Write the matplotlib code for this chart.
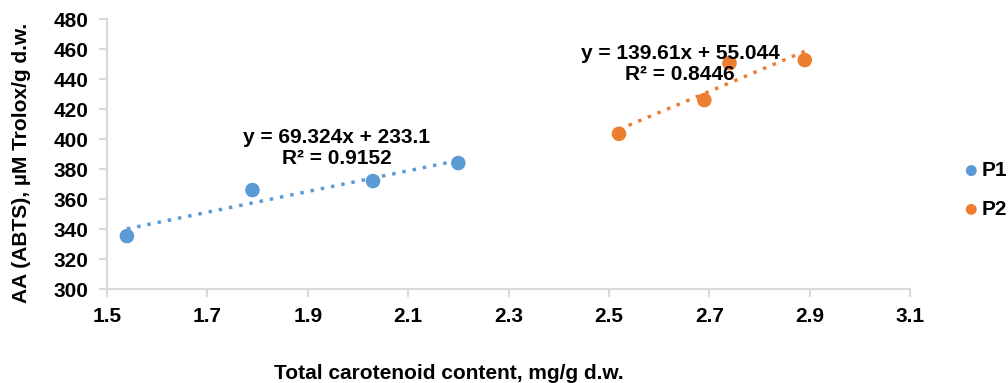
import numpy as np
import matplotlib.pyplot as plt

plt.rcParams['font.family'] = ['Liberation Sans', 'DejaVu Sans']
plt.rcParams['font.weight'] = 'bold'

p1_x = [1.54, 1.79, 2.03, 2.20]
p1_y = [335.3, 366.0, 372.0, 384.0]
p2_x = [2.52, 2.69, 2.74, 2.89]
p2_y = [403.5, 426.0, 450.7, 452.7]

p1_eq = "y = 69.324x + 233.1\nR² = 0.9152"
p2_eq = "y = 139.61x + 55.044\nR² = 0.8446"

blue = '#5B9BD5'
orange = '#ED7D31'
fs = 15

fig = plt.figure(figsize=(10.08, 3.83), dpi=100)
ax = fig.add_axes([0.106, 0.2454, 0.797, 0.7046])

for xs, ys, c, name in [(p1_x, p1_y, blue, 'P1'), (p2_x, p2_y, orange, 'P2')]:
    ax.scatter(xs, ys, s=110, color=c, label=name, zorder=3, edgecolors='none')
    k, b = np.polyfit(xs, ys, 1)
    lx = np.array([min(xs), max(xs)])
    ax.plot(lx, k * lx + b, linestyle=(0, (1, 2)), color=c, lw=2.5, zorder=2)

ax.text(1.958, 394, p1_eq, ha='center', va='center', fontsize=fs,
        fontweight='bold', linespacing=1.15, zorder=4)
ax.text(2.642, 450.3, p2_eq, ha='center', va='center', fontsize=fs,
        fontweight='bold', linespacing=1.15, zorder=4)

ax.set_xlim(1.5, 3.1)
ax.set_ylim(300, 480)
ax.set_xticks(np.arange(1.5, 3.11, 0.2))
ax.set_xticklabels(['1.5', '1.7', '1.9', '2.1', '2.3', '2.5', '2.7', '2.9', '3.1'])
ax.set_yticks(range(300, 481, 20))

for s in ['top', 'right']:
    ax.spines[s].set_visible(False)
for s in ['left', 'bottom']:
    ax.spines[s].set_color('#D9D9D9')
    ax.spines[s].set_linewidth(1.5)
ax.tick_params(axis='both', colors='#D9D9D9', width=1.5, length=6, pad=7,
               labelcolor='black', labelsize=fs)
for lab in ax.get_xticklabels() + ax.get_yticklabels():
    lab.set_fontweight('bold')

fig.text(0.445, 0.0, 'Total carotenoid content, mg/g d.w.', ha='center',
         va='bottom', fontsize=fs, fontweight='bold')
fig.text(0.021, 0.575, 'AA (ABTS), µM Trolox/g d.w.', rotation=90, ha='center',
         va='center', fontsize=fs, fontweight='bold')

ax.legend(loc='center left', bbox_to_anchor=(1.063, 0.367), frameon=False,
          handletextpad=0.0, markerscale=0.75, fontsize=fs, labelspacing=0.95,
          handlelength=1.0, borderpad=0, borderaxespad=0)

fig.savefig('out.png', dpi=100)
